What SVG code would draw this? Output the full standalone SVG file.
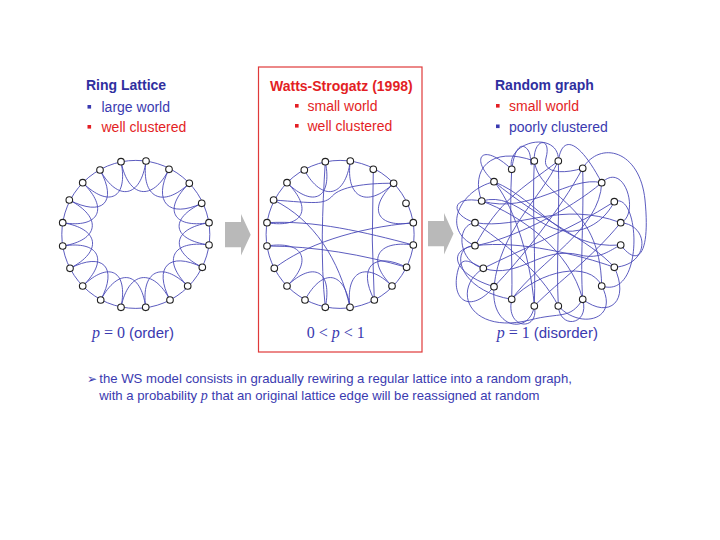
<svg xmlns="http://www.w3.org/2000/svg" width="720" height="540" viewBox="0 0 720 540">
<style>
.t{font-family:"Liberation Sans",Arial,sans-serif;font-size:14px}
.tb{font-family:"Liberation Sans",Arial,sans-serif;font-size:14px;font-weight:bold}
.blue{fill:#3a3ab0}
.dblue{fill:#2f2f9f}
.red{fill:#e31e24}
.serif{font-family:"Liberation Serif","Times New Roman",serif}
.it{font-style:italic}
.e{fill:none;stroke:#4a4ab8;stroke-width:0.9}
.nd{fill:#fff;stroke:#222;stroke-width:1.1}
.arr{fill:#b9b9b9}
</style>
<rect width="720" height="540" fill="#fff"/>

<g id="heading-ring">
<text class="tb dblue" x="86" y="90">Ring Lattice</text>
<rect class="blue" x="87.5" y="105" width="3.6" height="3.6"/>
<text class="t blue" x="101.5" y="111.5">large world</text>
<rect class="red" x="87.5" y="125" width="3.6" height="3.6"/>
<text class="t red" x="101.5" y="131.5">well clustered</text>
</g>
<g id="heading-ws">
<rect x="258.5" y="67" width="163.5" height="285" fill="none" stroke="#e03a3a" stroke-width="1.2"/>
<text class="tb red" x="270" y="91">Watts-Strogatz (1998)</text>
<rect class="red" x="295" y="104" width="3.6" height="3.6"/>
<text class="t red" x="307.5" y="111">small world</text>
<rect class="red" x="295" y="124" width="3.6" height="3.6"/>
<text class="t red" x="307.5" y="131">well clustered</text>
</g>
<g id="heading-random">
<text class="tb dblue" x="495" y="90">Random graph</text>
<rect class="red" x="496" y="104" width="3.6" height="3.6"/>
<text class="t red" x="509" y="111">small world</text>
<rect class="blue" x="496" y="124.5" width="3.6" height="3.6"/>
<text class="t blue" x="509" y="131.5">poorly clustered</text>
</g>

<g id="connectors">
<polygon id="arrow-1" class="arr" points="225,222 241,222 241,214 250.7,234.7 241,255.5 241,247.3 225,247.3"/>
<polygon id="arrow-2" class="arr" points="428,221 444,221 444,213 453.5,233.7 444,254.5 444,246.3 428,246.3"/>

<g id="edges-ring">
<circle class="e" cx="135.8" cy="234.4" r="74"/>
<path class="e" d="M121,161.7 C128.4,198.1 152.4,201.9 169,169.3"/>
<path class="e" d="M146,161 C140.9,197.75 162.55,208.9 189.3,183.3"/>
<path class="e" d="M169,169.3 C152.4,201.9 168.75,218.9 201.7,203.3"/>
<path class="e" d="M189.3,183.3 C162.55,208.9 172.4,228.6 209,222.7"/>
<path class="e" d="M201.7,203.3 C168.75,218.9 172.4,239.75 209,245"/>
<path class="e" d="M209,222.7 C172.4,228.6 169.05,250.9 202.3,267.3"/>
<path class="e" d="M209,245 C172.4,239.75 161.75,260.25 187.7,286"/>
<path class="e" d="M202.3,267.3 C169.05,250.9 152.9,267.25 170,300"/>
<path class="e" d="M187.7,286 C161.75,260.25 140.75,270.9 145.7,307.3"/>
<path class="e" d="M170,300 C152.9,267.25 128.4,270.9 121,307.3"/>
<path class="e" d="M145.7,307.3 C140.75,270.9 118.25,267.25 100.7,300"/>
<path class="e" d="M121,307.3 C128.4,270.9 109.25,260.25 82.7,286"/>
<path class="e" d="M100.7,300 C118.25,267.25 102.9,251.4 70,268.3"/>
<path class="e" d="M82.7,286 C109.25,260.25 99.25,240.25 62.7,246"/>
<path class="e" d="M70,268.3 C102.9,251.4 99.25,228.6 62.7,222.7"/>
<path class="e" d="M62.7,246 C99.25,240.25 102.55,217.25 69.3,200"/>
<path class="e" d="M62.7,222.7 C99.25,228.6 109.25,208.6 82.7,182.7"/>
<path class="e" d="M69.3,200 C102.55,217.25 117.9,202.25 100,170"/>
<path class="e" d="M82.7,182.7 C109.25,208.6 128.4,198.1 121,161.7"/>
<path class="e" d="M100,170 C117.9,202.25 140.9,197.75 146,161"/>
</g>

<g id="edges-ws" transform="translate(204.3,0)">
<circle class="e" cx="135.8" cy="234.4" r="74"/>
<path class="e" d="M146,161 C140.9,197.75 162.55,208.9 189.3,183.3"/>
<path class="e" d="M189.3,183.3 C162.55,208.9 172.4,228.6 209,222.7"/>
<path class="e" d="M209,245 C172.4,239.75 161.75,260.25 187.7,286"/>
<path class="e" d="M202.3,267.3 C169.05,250.9 152.9,267.25 170,300"/>
<path class="e" d="M187.7,286 C161.75,260.25 140.75,270.9 145.7,307.3"/>
<path class="e" d="M145.7,307.3 C140.75,270.9 118.25,267.25 100.7,300"/>
<path class="e" d="M121,307.3 C128.4,270.9 109.25,260.25 82.7,286"/>
<path class="e" d="M82.7,286 C109.25,260.25 99.25,240.25 62.7,246"/>
<path class="e" d="M62.7,222.7 C99.25,228.6 109.25,208.6 82.7,182.7"/>
<path class="e" d="M82.7,182.7 C109.25,208.6 128.4,198.1 121,161.7"/>
<path class="e" d="M100,170 C117.9,202.25 140.9,197.75 146,161"/>
<path class="e" d="M121,161.7 C118,210 116,260 121,307.3"/>
<path class="e" d="M169,169.3 L168,240 L170,300"/>
<path class="e" d="M69.3,200 C110,203 120,205 128,196 C136,187 160,183 189.3,183.3"/>
<path class="e" d="M62.7,246 C110,246 160,255 202.3,267.3"/>
<path class="e" d="M70,268.3 C100,245 150,228 209,222.7"/>
<path class="e" d="M69.3,200 C110,220 135,260 145.7,307.3"/>
<path class="e" d="M62.7,222.7 C110,220 160,232 209,245"/>
</g>

<g id="edges-random">
<path class="e" d="M511.7,169.3 C509,220 513,260 511.7,299.3"/>
<path class="e" d="M534.3,161 C532,210 536,260 534.3,306"/>
<path class="e" d="M558.3,161 C560,210 556,260 558.3,306"/>
<path class="e" d="M582.7,168.3 C584,220 580,260 582.7,299.3"/>
<path class="e" d="M511.7,169.3 C505,140 560,130 558.3,161"/>
<path class="e" d="M558.3,161 C562,135 578,138 601.7,182.7"/>
<path class="e" d="M534.3,161 C533,138 552,136 546,158 C542,172 560,175 582.7,168.3"/>
<path class="e" d="M582.7,168.3 C600,140 640,150 645,200 C650,250 640,270 620.7,245"/>
<path class="e" d="M620.7,222.7 C650,225 650,265 614.3,267.3"/>
<path class="e" d="M614.3,201.7 C640,190 645,300 601.7,286"/>
<path class="e" d="M601.7,286 C620,320 580,330 558.3,306"/>
<path class="e" d="M534.3,306 C530,335 490,330 494,286.7"/>
<path class="e" d="M483.3,268.3 C450,290 470,335 530,320 C560,312 570,320 582.7,299.3"/>
<path class="e" d="M475,222.7 C450,215 450,195 481.7,201"/>
<path class="e" d="M475,245.7 C445,250 455,275 494,286.7"/>
<path class="e" d="M494,181.7 C470,160 480,140 511.7,169.3"/>
<path class="e" d="M481.7,201 C470,170 490,145 534.3,161"/>
<path class="e" d="M475,222.7 C520,230 560,200 620.7,222.7"/>
<path class="e" d="M475,245.7 C520,240 580,255 614.3,267.3"/>
<path class="e" d="M481.7,201 C530,215 570,175 601.7,182.7"/>
<path class="e" d="M494,181.7 C540,200 560,250 620.7,245"/>
<path class="e" d="M483.3,268.3 C520,250 570,230 614.3,201.7"/>
<path class="e" d="M494,286.7 C520,260 560,210 582.7,168.3"/>
<path class="e" d="M511.7,299.3 C540,270 590,260 601.7,286"/>
<path class="e" d="M534.3,306 C530,250 510,200 494,181.7"/>
<path class="e" d="M558.3,306 C540,270 500,240 475,222.7"/>
<path class="e" d="M582.7,299.3 C570,250 520,215 481.7,201"/>
<path class="e" d="M601.7,182.7 C570,210 510,240 475,245.7"/>
<path class="e" d="M475,245.7 C450,245 455,290 511.7,299.3"/>
<path class="e" d="M475,222.7 C455,225 458,262 483.3,268.3"/>
<path class="e" d="M511.7,299.3 C505,330 540,332 534.3,306"/>
<path class="e" d="M558.3,306 C560,330 590,325 582.7,299.3"/>
<path class="e" d="M601.7,182.7 C625,160 640,215 620.7,222.7"/>
<path class="e" d="M614.3,267.3 C630,300 610,320 582.7,299.3"/>
<path class="e" d="M481.7,201 C520,190 540,240 580,230 C600,225 610,210 614.3,201.7"/>
<path class="e" d="M483.3,268.3 C520,280 540,245 580,255 C600,260 610,250 620.7,245"/>
<path class="e" d="M494,181.7 C460,190 440,230 475,245.7"/>
<path class="e" d="M534.3,161 C540,200 600,200 601.7,286"/>
<path class="e" d="M558.3,161 C540,200 500,230 494,286.7"/>
<path class="e" d="M601.7,182.7 C600,230 540,260 511.7,299.3"/>
<path class="e" d="M620.7,222.7 C590,260 560,280 534.3,306"/>
<path class="e" d="M475,245.7 C500,200 520,190 558.3,161"/>
<path class="e" d="M614.3,267.3 C590,240 540,220 494,181.7"/>
<path class="e" d="M494,286.7 C470,315 450,300 458,270 C462,255 470,262 483.3,268.3"/>
<path class="e" d="M511.7,169.3 C515,146 522,142 528,150 C533,157 528,172 534.3,161"/>
</g>
</g>

<g id="nodes-ring">
<g id="ring-n0"><circle class="nd" cx="121" cy="161.7" r="3.3"/></g>
<g id="ring-n1"><circle class="nd" cx="146" cy="161" r="3.3"/></g>
<g id="ring-n2"><circle class="nd" cx="169" cy="169.3" r="3.3"/></g>
<g id="ring-n3"><circle class="nd" cx="189.3" cy="183.3" r="3.3"/></g>
<g id="ring-n4"><circle class="nd" cx="201.7" cy="203.3" r="3.3"/></g>
<g id="ring-n5"><circle class="nd" cx="209" cy="222.7" r="3.3"/></g>
<g id="ring-n6"><circle class="nd" cx="209" cy="245" r="3.3"/></g>
<g id="ring-n7"><circle class="nd" cx="202.3" cy="267.3" r="3.3"/></g>
<g id="ring-n8"><circle class="nd" cx="187.7" cy="286" r="3.3"/></g>
<g id="ring-n9"><circle class="nd" cx="170" cy="300" r="3.3"/></g>
<g id="ring-n10"><circle class="nd" cx="145.7" cy="307.3" r="3.3"/></g>
<g id="ring-n11"><circle class="nd" cx="121" cy="307.3" r="3.3"/></g>
<g id="ring-n12"><circle class="nd" cx="100.7" cy="300" r="3.3"/></g>
<g id="ring-n13"><circle class="nd" cx="82.7" cy="286" r="3.3"/></g>
<g id="ring-n14"><circle class="nd" cx="70" cy="268.3" r="3.3"/></g>
<g id="ring-n15"><circle class="nd" cx="62.7" cy="246" r="3.3"/></g>
<g id="ring-n16"><circle class="nd" cx="62.7" cy="222.7" r="3.3"/></g>
<g id="ring-n17"><circle class="nd" cx="69.3" cy="200" r="3.3"/></g>
<g id="ring-n18"><circle class="nd" cx="82.7" cy="182.7" r="3.3"/></g>
<g id="ring-n19"><circle class="nd" cx="100" cy="170" r="3.3"/></g>
</g>
<g id="nodes-ws" transform="translate(204.3,0)">
<g id="ws-n0"><circle class="nd" cx="121" cy="161.7" r="3.3"/></g>
<g id="ws-n1"><circle class="nd" cx="146" cy="161" r="3.3"/></g>
<g id="ws-n2"><circle class="nd" cx="169" cy="169.3" r="3.3"/></g>
<g id="ws-n3"><circle class="nd" cx="189.3" cy="183.3" r="3.3"/></g>
<g id="ws-n4"><circle class="nd" cx="201.7" cy="203.3" r="3.3"/></g>
<g id="ws-n5"><circle class="nd" cx="209" cy="222.7" r="3.3"/></g>
<g id="ws-n6"><circle class="nd" cx="209" cy="245" r="3.3"/></g>
<g id="ws-n7"><circle class="nd" cx="202.3" cy="267.3" r="3.3"/></g>
<g id="ws-n8"><circle class="nd" cx="187.7" cy="286" r="3.3"/></g>
<g id="ws-n9"><circle class="nd" cx="170" cy="300" r="3.3"/></g>
<g id="ws-n10"><circle class="nd" cx="145.7" cy="307.3" r="3.3"/></g>
<g id="ws-n11"><circle class="nd" cx="121" cy="307.3" r="3.3"/></g>
<g id="ws-n12"><circle class="nd" cx="100.7" cy="300" r="3.3"/></g>
<g id="ws-n13"><circle class="nd" cx="82.7" cy="286" r="3.3"/></g>
<g id="ws-n14"><circle class="nd" cx="70" cy="268.3" r="3.3"/></g>
<g id="ws-n15"><circle class="nd" cx="62.7" cy="246" r="3.3"/></g>
<g id="ws-n16"><circle class="nd" cx="62.7" cy="222.7" r="3.3"/></g>
<g id="ws-n17"><circle class="nd" cx="69.3" cy="200" r="3.3"/></g>
<g id="ws-n18"><circle class="nd" cx="82.7" cy="182.7" r="3.3"/></g>
<g id="ws-n19"><circle class="nd" cx="100" cy="170" r="3.3"/></g>
</g>
<g id="nodes-random">
<g id="rnd-n0"><circle class="nd" cx="534.3" cy="161" r="3.3"/></g>
<g id="rnd-n1"><circle class="nd" cx="558.3" cy="161" r="3.3"/></g>
<g id="rnd-n2"><circle class="nd" cx="582.7" cy="168.3" r="3.3"/></g>
<g id="rnd-n3"><circle class="nd" cx="601.7" cy="182.7" r="3.3"/></g>
<g id="rnd-n4"><circle class="nd" cx="614.3" cy="201.7" r="3.3"/></g>
<g id="rnd-n5"><circle class="nd" cx="620.7" cy="222.7" r="3.3"/></g>
<g id="rnd-n6"><circle class="nd" cx="620.7" cy="245" r="3.3"/></g>
<g id="rnd-n7"><circle class="nd" cx="614.3" cy="267.3" r="3.3"/></g>
<g id="rnd-n8"><circle class="nd" cx="601.7" cy="286" r="3.3"/></g>
<g id="rnd-n9"><circle class="nd" cx="582.7" cy="299.3" r="3.3"/></g>
<g id="rnd-n10"><circle class="nd" cx="558.3" cy="306" r="3.3"/></g>
<g id="rnd-n11"><circle class="nd" cx="534.3" cy="306" r="3.3"/></g>
<g id="rnd-n12"><circle class="nd" cx="511.7" cy="299.3" r="3.3"/></g>
<g id="rnd-n13"><circle class="nd" cx="494" cy="286.7" r="3.3"/></g>
<g id="rnd-n14"><circle class="nd" cx="483.3" cy="268.3" r="3.3"/></g>
<g id="rnd-n15"><circle class="nd" cx="475" cy="245.7" r="3.3"/></g>
<g id="rnd-n16"><circle class="nd" cx="475" cy="222.7" r="3.3"/></g>
<g id="rnd-n17"><circle class="nd" cx="481.7" cy="201" r="3.3"/></g>
<g id="rnd-n18"><circle class="nd" cx="494" cy="181.7" r="3.3"/></g>
<g id="rnd-n19"><circle class="nd" cx="511.7" cy="169.3" r="3.3"/></g>
</g>

<text id="label-ring" class="blue" x="92" y="338.3"><tspan class="serif it" font-size="16">p</tspan><tspan class="serif" font-size="16"> = 0 </tspan><tspan font-family="Liberation Sans, Arial, sans-serif" font-size="15">(order)</tspan></text>
<text id="label-ws" class="blue serif" font-size="16" x="306.7" y="338.3">0 &lt; <tspan class="it">p</tspan> &lt; 1</text>
<text id="label-random" class="blue" x="496.7" y="337.5"><tspan class="serif it" font-size="16">p</tspan><tspan class="serif" font-size="16"> = 1 </tspan><tspan font-family="Liberation Sans, Arial, sans-serif" font-size="15">(disorder)</tspan></text>

<g id="note">
<text class="blue" font-family="DejaVu Sans, sans-serif" font-size="12" x="87" y="382.5">➢</text>
<text class="blue" font-family="Liberation Sans, Arial, sans-serif" font-size="13.15" x="99.3" y="383">the WS model consists in gradually rewiring a regular lattice into a random graph,</text>
<text class="blue" font-family="Liberation Sans, Arial, sans-serif" font-size="13.15" x="99.3" y="400">with a probability <tspan class="serif it" font-size="14">p</tspan> that an original lattice edge will be reassigned at random</text>
</g>
</svg>
